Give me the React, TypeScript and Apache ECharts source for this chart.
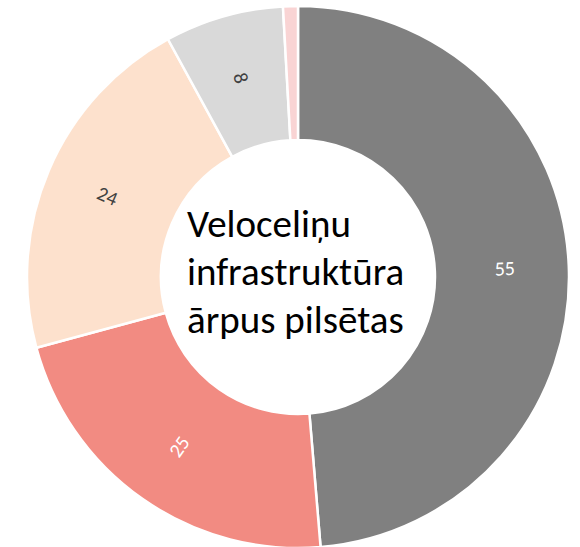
import React, { useEffect, useRef } from "react";
import * as echarts from "echarts";

const categories = ["A", "B", "C", "D", "E"];
const values = [55, 25, 24, 8, 1];
const colors = ["#808080", "#F28B82", "#FDE1CD", "#D9D9D9", "#F9D4D4"];
const labelColors = ["#ffffff", "#ffffff", "#404040", "#404040", "#404040"];
const centerLines = ["Veloceliņu", "infrastruktūra", "ārpus pilsētas"];

export default function App() {
  const ref = useRef<HTMLDivElement>(null);
  useEffect(() => {
    document.body.style.margin = "0";
    const chart = echarts.init(ref.current!, null, { renderer: "svg" });
    chart.setOption({
      animation: false,
      backgroundColor: "#ffffff",
      graphic: [
        {
          type: "text",
          left: 187,
          top: 199,
          style: {
            text: centerLines.join("\n"),
            font: '39px Carlito, Lato, "Open Sans", sans-serif',
            lineHeight: 48,
            fill: "#000000",
            textAlign: "left",
          },
        },
      ],
      series: [
        {
          type: "pie",
          center: [298, 277],
          radius: [137, 271],
          startAngle: 90,
          clockwise: true,
          avoidLabelOverlap: false,
          itemStyle: { borderColor: "#ffffff", borderWidth: 2.5 },
          label: {
            show: true,
            position: "inside",
            rotate: "radial",
            fontSize: 20,
            fontFamily: 'Carlito, Lato, "Open Sans", sans-serif',
          },
          labelLine: { show: false },
          data: categories.map((c, i) => ({
            name: c,
            value: values[i],
            itemStyle: { color: colors[i] },
            label: {
              show: i < 4,
              color: labelColors[i],
              formatter: String(values[i]),
            },
          })),
        },
      ],
    });
    return () => chart.dispose();
  }, []);
  return (
    <div
      ref={ref}
      style={{ position: "absolute", left: 0, top: 0, width: 580, height: 547 }}
    />
  );
}
